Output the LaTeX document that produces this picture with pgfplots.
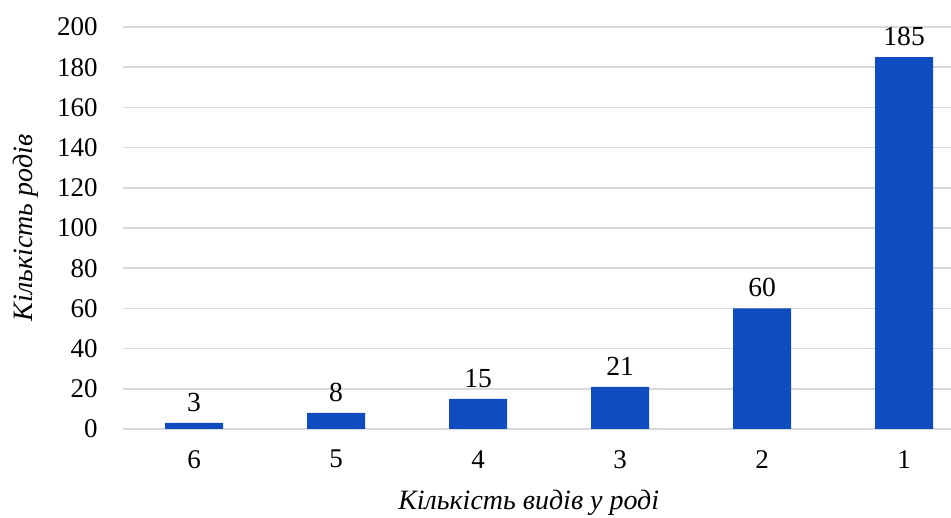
\documentclass[border=0pt]{standalone}
\usepackage{fontspec}
\setmainfont{Liberation Serif}
\usepackage{pgfplots}
\pgfplotsset{compat=1.18}
\usetikzlibrary{calc}
\definecolor{barblue}{RGB}{14,76,192}
\definecolor{gridgray}{RGB}{217,217,217}
\begin{document}
\fontsize{13.3}{16}\selectfont
\begin{tikzpicture}
\begin{axis}[
  name=ax,
  scale only axis,
  width=414pt, height=201pt,
  xmin=-0.5, xmax=5.33,
  ymin=0, ymax=200,
  ytick={0,20,...,200},
  xtick={0,1,2,3,4,5},
  xticklabels={6,5,4,3,2,1},
  axis line style={draw=none},
  major tick length=0pt,
  ymajorgrids,
  grid style={gridgray, line width=0.8pt},
  /pgf/number format/assume math mode=true,
  tick label style={font=\fontsize{13.5}{16}\selectfont},
  yticklabel style={xshift=-8pt},
  xticklabel style={yshift=-6pt},
  ylabel={\textit{Кількість родів}},
  xlabel={\textit{Кількість видів у роді}},
  ylabel style={at={(axis description cs:-0.118,0.5)}, anchor=center, font=\fontsize{14}{16}\selectfont},
  xlabel style={at={(axis description cs:0.49,-0.184)}, anchor=center, font=\fontsize{14}{16}\selectfont},
  nodes near coords,
  nodes near coords style={font=\fontsize{13.8}{16}\selectfont, anchor=south, yshift=1pt},
  point meta=explicit symbolic,
]
\addplot[ybar, bar width=29pt, fill=barblue, draw=none]
  coordinates {(0,3)[3] (1,8)[8] (2,15)[15] (3,21)[21] (4,60)[60] (5,185)[185]};
\end{axis}
\pgfresetboundingbox
\path[use as bounding box] ($(ax.south west)+(-61.5pt,-44.5pt)$) rectangle ($(ax.north east)+(0pt,13.5pt)$);
\end{tikzpicture}
\end{document}
